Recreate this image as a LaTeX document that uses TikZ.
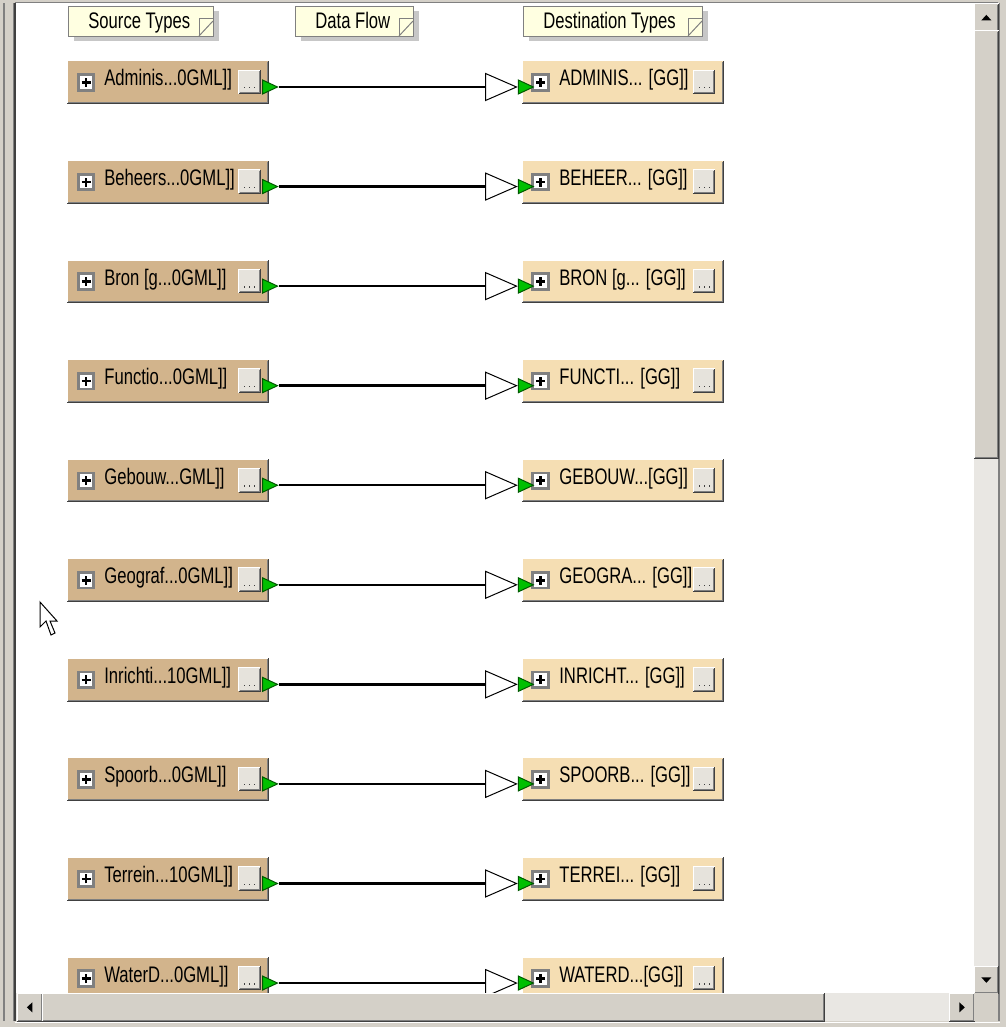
\documentclass[tikz,border=0pt]{standalone}
\usepackage{fontspec}
\setmainfont[FakeStretch=0.74]{Liberation Sans}
\usepackage{xcolor}
\usetikzlibrary{shapes.geometric,shadows}

\definecolor{srcfill}{HTML}{D2B48C}
\definecolor{dstfill}{HTML}{F5DEB3}
\definecolor{notefill}{HTML}{FFFFE1}
\definecolor{btnface}{HTML}{D4D0C8}
\definecolor{btnlite}{HTML}{E6E3DC}
\definecolor{btnshade}{HTML}{808080}
\definecolor{btndark}{HTML}{404040}
\definecolor{portgreen}{HTML}{00C000}
\definecolor{trackfill}{HTML}{E9E7E3}

% raised 3d edge round a node
\newcommand{\bevel}[1]{%
  \draw[litedge] (#1.south west) |- (#1.north east);
  \draw[darkedge] (#1.south west) -| (#1.north east);
  \draw[midedge] ([shift={(1,-1)}]#1.south west) -| ([shift={(-1,1)}]#1.north east);}

\begin{document}
\begin{tikzpicture}[x=0.02cm, y=-0.02cm,
    srcbox/.style={anchor=north west, fill=srcfill, inner sep=0, minimum width=4.02cm, minimum height=0.84cm},
    dstbox/.style={srcbox, fill=dstfill},
    plusbox/.style={fill=white, draw=btnshade, line width=0.055cm, inner sep=0, minimum size=0.31cm,
        path picture={
            \draw[black, line width=0.05cm] ([xshift=-0.09cm]path picture bounding box.center) -- ([xshift=0.09cm]path picture bounding box.center);
            \draw[black, line width=0.05cm] ([yshift=-0.09cm]path picture bounding box.center) -- ([yshift=0.09cm]path picture bounding box.center);}},
    typelabel/.style={anchor=base west, inner sep=0, font=\fontsize{12.8}{14}\selectfont},
    dotbtn/.style={fill=btnlite, inner sep=0, minimum width=0.42cm, minimum height=0.46cm,
        path picture={
            \fill[btndark] ([shift={(-5.5,-5)}]path picture bounding box.south) rectangle +(1.3,-1.3);
            \fill[btndark] ([shift={(-0.5,-5)}]path picture bounding box.south) rectangle +(1.3,-1.3);
            \fill[btndark] ([shift={(4.5,-5)}]path picture bounding box.south) rectangle +(1.3,-1.3);}},
    port/.style={isosceles triangle, isosceles triangle stretches, fill=portgreen, draw=green!35!black,
        line width=0.02cm, inner sep=0, minimum width=0.28cm, minimum height=0.3cm},
    flowtip/.style={isosceles triangle, isosceles triangle stretches, fill=white, draw=black,
        line width=0.02cm, inner sep=0, minimum width=0.54cm, minimum height=0.62cm},
    flowline/.style={line width=0.05cm},
    notebox/.style={anchor=north west, fill=notefill, draw=btnshade, line width=0.02cm, inner sep=0,
        minimum height=0.6cm, drop shadow={shadow xshift=0.1cm, shadow yshift=-0.1cm, fill=black!22, opacity=1}},
    noteicon/.style={draw=btnshade, line width=0.02cm},
    litedge/.style={draw=white, line width=0.02cm},
    darkedge/.style={draw=btndark, line width=0.02cm},
    midedge/.style={draw=btnshade, line width=0.02cm},
    sbtn/.style={anchor=north west, fill=btnface, inner sep=0, minimum width=0.48cm, minimum height=0.54cm},
    sthumb/.style={anchor=north west, fill=btnface, inner sep=0}
]

\useasboundingbox (0,0) rectangle (1006,1027);
\fill[white] (0,0) rectangle (1006,1027);

% column headers
\foreach \hname/\hx/\hw/\htext in {hsrc/68/145/Source Types, hflow/295/118/Data Flow, hdst/523/179/Destination Types} {
  \node[notebox, minimum width=\hw*0.02cm] (\hname) at (\hx,6) {};
  \node[typelabel] (\hname t) at (\hx+20,29) {\htext};
  \draw[noteicon] ([shift={(-15,-1)}]\hname.south east) |- ([shift={(-1,-18)}]\hname.south east);
  \draw[noteicon] ([shift={(-15,-1)}]\hname.south east) -- ([shift={(-1,-16)}]\hname.south east);
}

% one row per feature type
\foreach \src/\dst [count=\i] in {
    {Adminis...0GML]]}/{ADMINIS... [GG]]},
    {Beheers...0GML]]}/{BEHEER... [GG]]},
    {Bron [g...0GML]]}/{BRON [g... [GG]]},
    {Functio...0GML]]}/{FUNCTI... [GG]]},
    {Gebouw...GML]]}/{GEBOUW...[GG]]},
    {Geograf...0GML]]}/{GEOGRA... [GG]]},
    {Inrichti...10GML]]}/{INRICHT... [GG]]},
    {Spoorb...0GML]]}/{SPOORB... [GG]]},
    {Terrein...10GML]]}/{TERREI... [GG]]},
    {WaterD...0GML]]}/{WATERD...[GG]]}} {
  \pgfmathsetmacro\yy{61+99.56*(\i-1)}
  % source side
  \node[srcbox] (s\i) at (67,\yy) {};
  \bevel{s\i}
  \node[plusbox] (sp\i) at (86,\yy+21.5) {};
  \node[typelabel] (sl\i) at (104,\yy+25) {\src};
  \node[dotbtn] (sb\i) at (249.5,\yy+21) {};
  \bevel{sb\i}
  \node[port, anchor=lower side] (so\i) at (262,\yy+26) {};
  % destination side
  \node[dstbox] (d\i) at (522,\yy) {};
  \bevel{d\i}
  \node[plusbox] (dp\i) at (540.5,\yy+21.5) {};
  \node[typelabel] (dl\i) at (559,\yy+25) {\dst};
  \node[dotbtn] (db\i) at (704,\yy+21) {};
  \bevel{db\i}
  % data flow
  \node[flowtip, anchor=lower side] (ft\i) at (485,\yy+26) {};
  \draw[flowline] (so\i.apex) -- (ft\i.lower side);
  \node[port, anchor=lower side] (di\i) at (ft\i.apex) {};
}

% mouse pointer
\draw[fill=white, line width=0.02cm, line join=miter]
  (40,602) -- (40,627) -- (46,621) -- (51,635) -- (55,633) -- (50,621) -- (57,621) -- cycle;

% window frame
\fill[btnface] (0,0) rectangle (16,1027);
\draw[btnshade, line width=0.03cm] (4,0) -- (4,1027);
\draw[btnshade, line width=0.02cm] (13,3) -- (13,1021);
\draw[btndark, line width=0.03cm] (15,3) -- (15,1021);
\fill[btnface] (0,0) rectangle (1006,3);
\draw[btnshade, line width=0.03cm] (15,2.5) -- (1000,2.5);
\fill[btnface] (998,0) rectangle (1006,1027);
\draw[btnshade, line width=0.03cm] (999,3) -- (999,1021);
\fill[btnface] (0,1021) rectangle (1006,1027);
\draw[white, line width=0.02cm] (15,1022) -- (1000,1022);

% vertical scroll bar
\fill[trackfill] (974,3) rectangle (998,993);
\node[sbtn] (vup) at (974,4) {};
\bevel{vup}
\fill[black] ([shift={(0,-3)}]vup.center) -- ++(-5,5.5) -- ++(10,0) -- cycle;
\node[sthumb, minimum width=0.48cm, minimum height=8.54cm] (vthumb) at (974,31) {};
\bevel{vthumb}
\node[sbtn] (vdown) at (974,966) {};
\bevel{vdown}
\fill[black] ([shift={(0,3)}]vdown.center) -- ++(-5,-5.5) -- ++(10,0) -- cycle;

% horizontal scroll bar
\fill[trackfill] (16,993) rectangle (974,1021);
\node[sbtn, minimum width=0.5cm, minimum height=0.56cm] (hleft) at (17,993) {};
\bevel{hleft}
\fill[black] ([shift={(-3,0)}]hleft.center) -- ++(5.5,-5) -- ++(0,10) -- cycle;
\node[sthumb, minimum width=15.64cm, minimum height=0.56cm] (hthumb) at (42,993) {};
\bevel{hthumb}
\node[sbtn, minimum width=0.5cm, minimum height=0.56cm] (hright) at (949,993) {};
\bevel{hright}
\fill[black] ([shift={(3,0)}]hright.center) -- ++(-5.5,-5) -- ++(0,10) -- cycle;
\fill[btnface] (974,993) rectangle (998,1021);

\end{tikzpicture}
\end{document}
